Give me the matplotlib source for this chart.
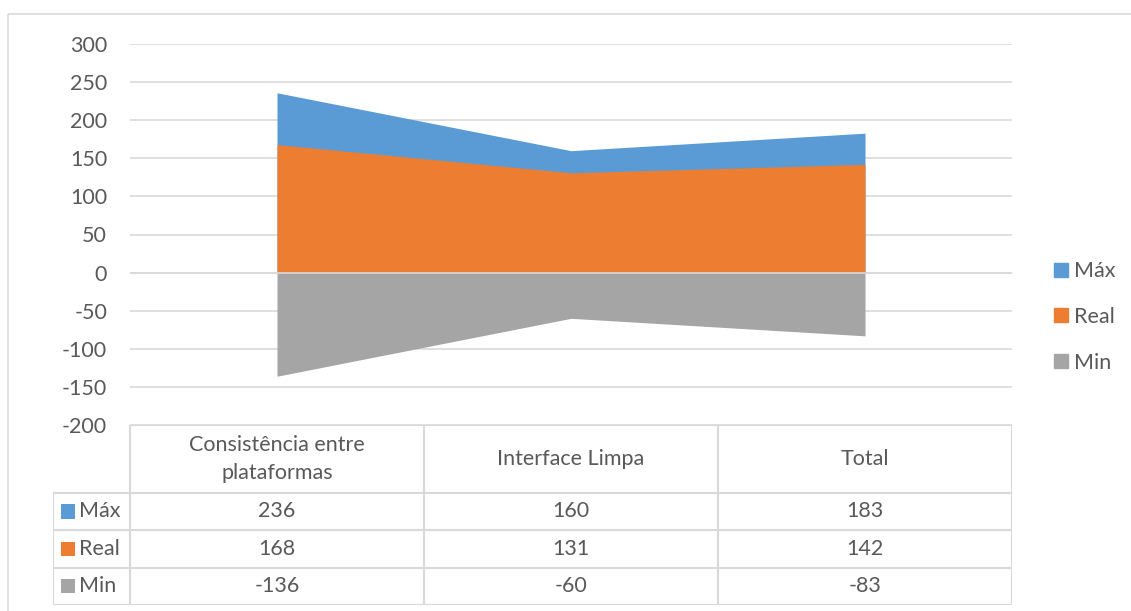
import numpy as np
import matplotlib.pyplot as plt
from matplotlib.patches import Rectangle

categories = ["Consistência entre\nplataformas", "Interface Limpa", "Total"]
series = ["Máx", "Real", "Min"]
maximo = [236, 160, 183]
real = [168, 131, 142]
minimo = [-136, -60, -83]
yticks = [-200, -150, -100, -50, 0, 50, 100, 150, 200, 250, 300]

colors = ["#5B9BD5", "#ED7D31", "#A5A5A5"]
txt = "#595959"
grid = "#D9D9D9"
fs = 15.5
plt.rcParams['font.family'] = ['Lato', 'DejaVu Sans']
plt.rcParams['axes.unicode_minus'] = False

W, H = 1131, 611
fig = plt.figure(figsize=(W / 100, H / 100), dpi=100)

def box(x0, y0, x1, y1):
    # pixel box (top-left origin) -> figure fraction rect
    return [x0 / W, 1 - y1 / H, (x1 - x0) / W, (y1 - y0) / H]

# chart border
bg = fig.add_axes([0, 0, 1, 1])
bg.set_xlim(0, W)
bg.set_ylim(H, 0)
bg.axis('off')
bg.add_patch(Rectangle((8, 14), W + 10, H, fill=False, ec=grid, lw=1.2))

ax = fig.add_axes(box(130, 44, 1012, 425))
x = np.arange(len(categories))
for vals, c in zip([maximo, real, minimo], colors):
    ax.fill_between(x, 0, vals, color=c, lw=0, zorder=2)
ax.axhline(0, color=grid, lw=1.2, zorder=3)
ax.set_xlim(-0.5, 2.5)
ax.set_ylim(-200, 300)
ax.set_yticks(yticks)
ax.yaxis.grid(True, color=grid, lw=1.2, zorder=0)
ax.set_axisbelow(True)
ax.set_xticks([])
for s in ax.spines.values():
    s.set_visible(False)
ax.tick_params(axis='y', length=0, pad=16.5, labelsize=fs, labelcolor=txt)

# data table under the plot: header row is taller than the value rows
hdr = 67 / 37.0
row_edges = [0, hdr, hdr + 1, hdr + 2, hdr + 3]
leg_left = -0.5 - (130 - 53) / 294.0
tb = fig.add_axes(box(53, 425, 1012, 605))
tb.set_xlim(leg_left, 2.5)
tb.set_ylim(row_edges[-1], 0)
tb.axis('off')
lc = grid
lw = 1.5
tb.plot([-0.5, 2.5], [0, 0], color=lc, lw=lw)
for xe in [-0.5, 0.5, 1.5, 2.5]:
    tb.plot([xe, xe], [0, row_edges[-1]], color=lc, lw=lw)
tb.plot([leg_left, leg_left], [hdr, row_edges[-1]], color=lc, lw=lw)
for ye in row_edges[1:]:
    tb.plot([leg_left, 2.5], [ye, ye], color=lc, lw=lw)
for i, cat in enumerate(categories):
    tb.text(i, hdr / 2, cat, ha='center', va='center', fontsize=fs, color=txt,
            linespacing=1.5)
rows = [maximo, real, minimo]
for r, (name, vals, c) in enumerate(zip(series, rows, colors)):
    yc = hdr + r + 0.5
    for i, v in enumerate(vals):
        tb.text(i, yc, str(v), ha='center', va='center', fontsize=fs, color=txt)
    tb.add_patch(Rectangle((leg_left + 0.027, yc - 0.19), 0.048, 0.38,
                           color=c, lw=0))
    tb.text(leg_left + 0.088, yc, name, ha='left', va='center',
            fontsize=fs, color=txt)

# legend on the right
handles = [Rectangle((0, 0), 1, 1, color=c) for c in colors]
fig.legend(handles, series, loc='center left', bbox_to_anchor=(1035 / W, 1 - 317 / H),
           frameon=False, fontsize=fs, labelcolor=txt, handlelength=0.62,
           handleheight=0.62, handletextpad=0.3, labelspacing=1.2)

fig.savefig("out.png", dpi=100)
